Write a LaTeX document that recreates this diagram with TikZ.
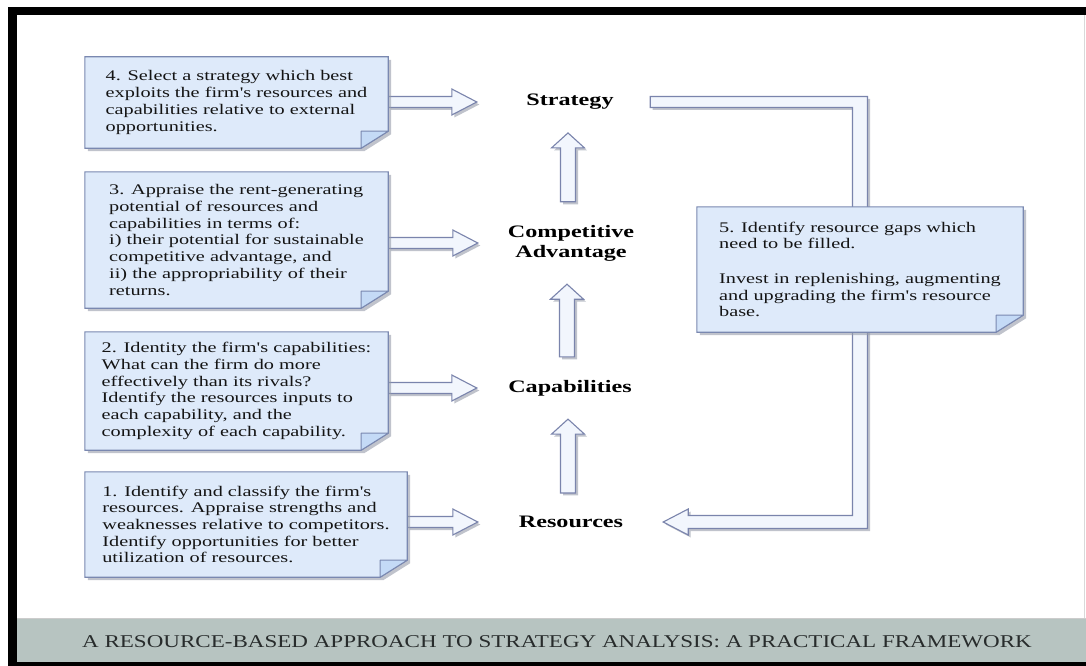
\documentclass[tikz,border=0pt]{standalone}
\usepackage{fontspec}
\setmainfont{Liberation Serif}
\newfontfamily\notefont[FakeStretch=1.38]{Liberation Serif}
\newfontfamily\capfont[FakeStretch=1.28]{Liberation Serif}
\usetikzlibrary{calc,shadows}
\pgfdeclarelayer{back}
\pgfdeclarelayer{paper}
\pgfsetlayers{back,paper,main}

\definecolor{notefill}{RGB}{222,234,250}
\definecolor{foldfill}{RGB}{196,218,246}
\definecolor{noteline}{RGB}{122,136,176}
\definecolor{arrfill}{RGB}{242,246,253}
\definecolor{arrline}{RGB}{122,132,172}
\definecolor{shade}{RGB}{150,156,170}
\definecolor{band}{RGB}{183,196,193}
\definecolor{captext}{RGB}{40,44,44}
\definecolor{notetext}{RGB}{20,20,20}

% sticky note with folded corner
\newcommand{\notebox}[1]{%
  \draw[notepaper] (#1.north west) -- (#1.north east) -- ([yshift=17pt]#1.south east)
    -- ([xshift=-27pt]#1.south east) -- (#1.south west) -- cycle;
  \draw[notefold] ([yshift=17pt]#1.south east) -- ([xshift=-27pt,yshift=17pt]#1.south east)
    -- ([xshift=-27pt]#1.south east) -- cycle;}
% hollow arrow pointing right
\newcommand{\harrow}[2]{%
  \draw[blockarr] let \p1=(#1), \p2=(#2) in
    (\x1,\y1+5.5pt) -- (\x2-25pt,\y1+5.5pt) -- (\x2-25pt,\y1+13pt) -- (\x2,\y1)
    -- (\x2-25pt,\y1-13pt) -- (\x2-25pt,\y1-5.5pt) -- (\x1,\y1-5.5pt) -- cycle;}
% hollow arrow pointing up
\newcommand{\varrow}[2]{%
  \draw[blockarr] let \p1=([xshift=-3pt,yshift=23pt]#1.north), \p2=([yshift=-23pt]#2.south) in
    (\x1-7.5pt,\y1) -- (\x1-7.5pt,\y2-15pt) -- (\x1-16.5pt,\y2-15pt) -- (\x1,\y2)
    -- (\x1+16.5pt,\y2-15pt) -- (\x1+7.5pt,\y2-15pt) -- (\x1+7.5pt,\y1) -- cycle;}

\begin{document}
\begin{tikzpicture}[x=1pt, y=-1pt,
  note/.style={inner xsep=10pt, align=left, text=notetext,
    font=\notefont\fontsize{14.7}{16.7}\selectfont},
  stage/.style={inner sep=0pt, minimum width=160pt, align=center,
    font=\notefont\bfseries\fontsize{17.5}{20}\selectfont},
  notepaper/.style={fill=notefill, draw=noteline, line width=1.1pt,
    drop shadow={shadow xshift=3pt, shadow yshift=-3pt, fill=shade, opacity=.6}},
  notefold/.style={fill=foldfill, draw=noteline, line width=1pt, line join=round},
  blockarr/.style={fill=arrfill, draw=arrline, line width=1.1pt,
    drop shadow={shadow xshift=2.5pt, shadow yshift=-2.5pt, fill=shade, opacity=.6}}]
\useasboundingbox (0,0) rectangle (1086,666);

\begin{pgfonlayer}{back}
\fill[white] (0,0) rectangle (1086,666);
\fill[black] (8,7) rectangle (1086,666);
\fill[white] (17,15) rectangle (1086,662);
\fill[band] (17,618) rectangle (1086,662);
\draw[gray!40] (17,618.5) -- (1086,618.5);
\draw[gray!30] (1084,15) -- (1084,618);
\end{pgfonlayer}

\node[stage] (strat) at (570,102) {Strategy};
\node[stage] (adv) at (571,243) {Competitive\\Advantage};
\node[stage] (cap) at (570,388) {Capabilities};
\node[stage] (res) at (571,522) {Resources};

\node[note, minimum width=303pt, minimum height=91pt] (b4) at (236.5,102.5)
  {4. Select a strategy which best\\exploits the firm's resources and\\capabilities relative to external\\opportunities.};
\node[note, minimum width=303pt, minimum height=136pt] (b3) at (236.5,240)
  {3. Appraise the rent-generating\\potential of resources and\\capabilities in terms of:\\i) their potential for sustainable\\competitive advantage, and\\ii) the appropriability of their\\returns.};
\node[note, minimum width=303pt, minimum height=118pt] (b2) at (236.5,391)
  {2. Identity the firm's capabilities:\\What can the firm do more\\effectively than its rivals?\\Identify the resources inputs to\\each capability, and the\\complexity of each capability.};
\node[note, minimum width=322pt, minimum height=105pt] (b1) at (246,524.5)
  {1. Identify and classify the firm's\\resources. Appraise strengths and\\weaknesses relative to competitors.\\Identify opportunities for better\\utilization of resources.};
\node[note, minimum width=326pt, minimum height=125pt] (b5) at (860,269.5)
  {5. Identify resource gaps which\\need to be filled.\\[18pt]Invest in replenishing, augmenting\\and upgrading the firm's resource\\base.};

\node[inner sep=0pt, text=captext, font=\capfont\fontsize{18}{20}\selectfont] (title) at (557,642)
  {A RESOURCE-BASED APPROACH TO STRATEGY ANALYSIS: A PRACTICAL FRAMEWORK};

\begin{pgfonlayer}{paper}
% feedback loop from strategy back to resources
\draw[blockarr] let \p1=(strat.east), \p2=(res.east), \p3=(b5.center) in
  (\x1,\y1+5.5pt) -- (\x3+7.5pt,\y1+5.5pt) -- (\x3+7.5pt,\y2-6.5pt) -- (\x2+37pt,\y2-6.5pt)
  -- (\x2+37pt,\y2-13pt) -- (\x2+12pt,\y2) -- (\x2+37pt,\y2+13pt) -- (\x2+37pt,\y2+6.5pt)
  -- (\x3-7.5pt,\y2+6.5pt) -- (\x3-7.5pt,\y1-5.5pt) -- (\x1,\y1-5.5pt) -- cycle;
\harrow{b4.east |- strat}{[xshift=-13pt]strat.west}
\harrow{b3.east |- adv}{[xshift=-13pt]adv.west}
\harrow{b2.east |- cap}{[xshift=-13pt]cap.west}
\harrow{b1.east |- res}{[xshift=-13pt]res.west}
\varrow{res}{cap}
\varrow{cap}{adv}
\varrow{adv}{strat}
\foreach \b in {b1,b2,b3,b4,b5}
{
    \notebox{\b}
}
\end{pgfonlayer}
\end{tikzpicture}
\end{document}
